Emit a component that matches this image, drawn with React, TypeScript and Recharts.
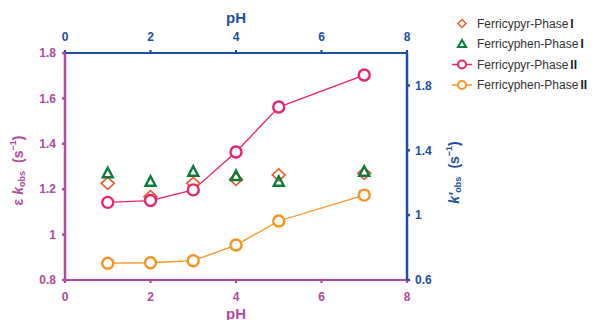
import { ComposedChart, Line, Scatter, XAxis, YAxis } from 'recharts'

const phValues = [1, 2, 3, 4, 5, 7]
// Phase I on right axis (k'obs)
const pyrPhaseI = [1.196, 1.114, 1.196, 1.221, 1.248, 1.258]
const phenPhaseI = [1.258, 1.206, 1.268, 1.241, 1.206, 1.268]
// Phase II on left axis (ε kobs)
const pyrPhaseII = [1.142, 1.15, 1.197, 1.364, 1.562, 1.703]
const phenPhaseII = [0.874, 0.876, 0.885, 0.954, 1.06, 1.174]

const xTicks = [0, 2, 4, 6, 8]
const leftTicks = [0.8, 1, 1.2, 1.4, 1.6, 1.8]
const rightTicks = [0.6, 1, 1.4, 1.8]

const PURPLE = '#B2499E'
const BLUE = '#1C4FA1'
const PINK = '#E8236F'
const ORANGE = '#F7931E'
const RED = '#F05A28'
const GREEN = '#0B7A3A'
const FONT = '"Liberation Sans", Arial, sans-serif'

const phaseIData = phValues.map((ph, i) => ({ ph, pyr: pyrPhaseI[i], phen: phenPhaseI[i] }))
const phaseIIData = phValues.map((ph, i) => ({ ph, pyr: pyrPhaseII[i], phen: phenPhaseII[i] }))

const Diamond = (props: any) => {
  const { cx, cy } = props
  return (
    <path
      d={`M${cx},${cy - 6} L${cx + 6.5},${cy} L${cx},${cy + 6} L${cx - 6.5},${cy} Z`}
      fill="none"
      stroke={RED}
      strokeWidth={1.6}
    />
  )
}

const Triangle = (props: any) => {
  const { cx, cy } = props
  return (
    <path
      d={`M${cx},${cy - 5.5} L${cx + 5},${cy + 4} L${cx - 5},${cy + 4} Z`}
      fill="none"
      stroke={GREEN}
      strokeWidth={2.4}
    />
  )
}

const LeftLabel = (props: any) => {
  const vb = props.viewBox
  const cx = 18
  const cy = vb.y + vb.height / 2 + 4
  return (
    <text
      x={cx}
      y={cy}
      transform={`rotate(-90, ${cx}, ${cy})`}
      textAnchor="middle"
      dominantBaseline="central"
      fill={PURPLE}
      fontWeight="bold"
      fontSize={14}
      fontFamily={FONT}
    >
      ε <tspan fontStyle="italic">k</tspan>
      <tspan fontSize={9} dy={4}>obs</tspan>
      <tspan dy={-4} dx={8}>(s</tspan>
      <tspan fontSize={9} dy={-5}>−1</tspan>
      <tspan dy={5}>)</tspan>
    </text>
  )
}

const RightLabel = (props: any) => {
  const vb = props.viewBox
  const cx = 454
  const cy = vb.y + vb.height / 2 + 6
  return (
    <text
      x={cx}
      y={cy}
      transform={`rotate(-90, ${cx}, ${cy})`}
      textAnchor="middle"
      dominantBaseline="central"
      fill={BLUE}
      fontWeight="bold"
      fontSize={14}
      fontFamily={FONT}
    >
      <tspan fontStyle="italic">k′</tspan>
      <tspan fontSize={9} dy={4}>obs</tspan>
      <tspan dy={-4} dx={8}>(s</tspan>
      <tspan fontSize={9} dy={-5}>−1</tspan>
      <tspan dy={5}>)</tspan>
    </text>
  )
}

const PhLabel = (color: string, y: number) => (props: any) => {
  const vb = props.viewBox
  return (
    <text
      x={vb.x + vb.width / 2}
      y={y}
      textAnchor="middle"
      dominantBaseline="central"
      fill={color}
      fontWeight="bold"
      fontSize={15}
      fontFamily={FONT}
    >
      pH
    </text>
  )
}

const legendItems = [
  { name: 'Ferricypyr-Phase', num: 'I', kind: 'diamond', color: RED },
  { name: 'Ferricyphen-Phase', num: 'I', kind: 'triangle', color: GREEN },
  { name: 'Ferricypyr-Phase', num: 'II', kind: 'line', color: PINK },
  { name: 'Ferricyphen-Phase', num: 'II', kind: 'line', color: ORANGE },
]

function LegendBox() {
  return (
    <svg width={150} height={90} style={{ position: 'absolute', left: 450, top: 12 }}>
      {legendItems.map((it, i) => {
        const y = 11.5 + i * 20.5
        let icon
        if (it.kind === 'diamond') {
          icon = <path d={`M12,${y - 4} L16,${y} L12,${y + 4} L8,${y} Z`} fill="none" stroke={it.color} strokeWidth={1.5} />
        } else if (it.kind === 'triangle') {
          icon = <path d={`M12,${y - 4} L16,${y + 3} L8,${y + 3} Z`} fill="none" stroke={it.color} strokeWidth={2} />
        } else {
          icon = (
            <g>
              <line x1={2} x2={22} y1={y} y2={y} stroke={it.color} strokeWidth={1.5} />
              <circle cx={12} cy={y} r={4} fill="#fff" stroke={it.color} strokeWidth={2} />
            </g>
          )
        }
        return (
          <g key={i}>
            {icon}
            <text x={27} y={y} dominantBaseline="central" fontSize={12} fontFamily={FONT} fill="#333">
              {it.name}
              <tspan dx={2} fontWeight="bold" fill="#222">{it.num}</tspan>
            </text>
          </g>
        )
      })}
    </svg>
  )
}

const tickStyle = { fontSize: 12, fontWeight: 'bold', fontFamily: FONT }

export default function App() {
  return (
    <div style={{ position: 'absolute', left: 0, top: 0, width: 596, height: 320, background: '#fff' }}>
      <ComposedChart width={596} height={320} margin={{ top: 23, right: 139, bottom: 10, left: 0 }}>
        <XAxis
          xAxisId="bottom"
          type="number"
          dataKey="ph"
          domain={[0, 8]}
          ticks={xTicks}
          orientation="bottom"
          height={30}
          stroke={PURPLE}
          strokeWidth={2.2}
          tickSize={3}
          tickMargin={9}
          tick={{ ...tickStyle, fill: PURPLE }}
          label={{ content: PhLabel(PURPLE, 313) }}
        />
        <XAxis
          xAxisId="top"
          type="number"
          dataKey="ph"
          domain={[0, 8]}
          ticks={xTicks}
          orientation="top"
          height={30}
          stroke={BLUE}
          strokeWidth={2.2}
          tickSize={3}
          tickMargin={9}
          tick={{ ...tickStyle, fill: BLUE }}
          label={{ content: PhLabel(BLUE, 17) }}
        />
        <YAxis
          yAxisId="left"
          type="number"
          domain={[0.8, 1.8]}
          ticks={leftTicks}
          width={65}
          stroke={PURPLE}
          strokeWidth={2.5}
          tickSize={3}
          tickMargin={6}
          tick={{ ...tickStyle, fill: PURPLE }}
          label={{ content: LeftLabel }}
        />
        <YAxis
          yAxisId="right"
          orientation="right"
          type="number"
          domain={[0.6, 2.0]}
          ticks={rightTicks}
          width={50}
          stroke={BLUE}
          strokeWidth={2.5}
          tickSize={3}
          tickMargin={5}
          tick={{ ...tickStyle, fill: BLUE }}
          label={{ content: RightLabel }}
        />
        <Scatter
          data={phaseIData}
          xAxisId="top"
          yAxisId="right"
          dataKey="pyr"
          shape={Diamond}
          isAnimationActive={false}
        />
        <Scatter
          data={phaseIData}
          xAxisId="top"
          yAxisId="right"
          dataKey="phen"
          shape={Triangle}
          isAnimationActive={false}
        />
        <Line
          data={phaseIIData}
          xAxisId="bottom"
          yAxisId="left"
          dataKey="pyr"
          stroke={PINK}
          strokeWidth={1.3}
          dot={{ r: 5.5, fill: '#fff', stroke: PINK, strokeWidth: 2.4 }}
          isAnimationActive={false}
        />
        <Line
          data={phaseIIData}
          xAxisId="bottom"
          yAxisId="left"
          dataKey="phen"
          stroke={ORANGE}
          strokeWidth={1.3}
          dot={{ r: 5.5, fill: '#fff', stroke: ORANGE, strokeWidth: 2.4 }}
          isAnimationActive={false}
        />
      </ComposedChart>
      <LegendBox />
    </div>
  )
}
